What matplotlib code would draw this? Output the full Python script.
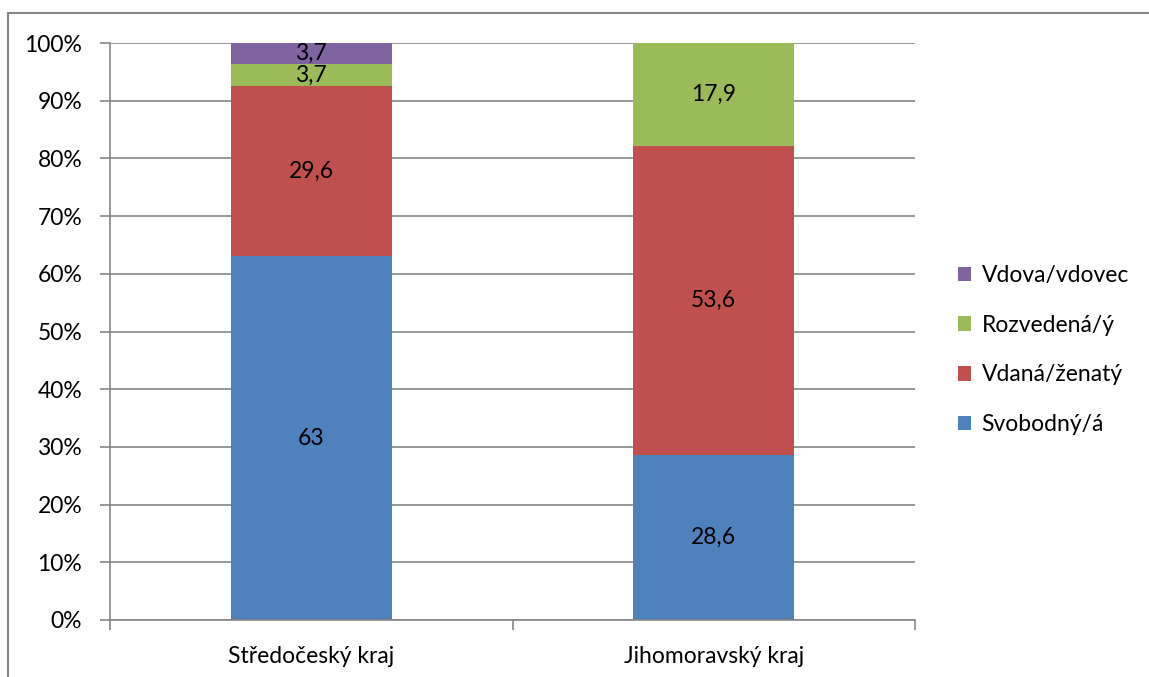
import numpy as np
import matplotlib
import matplotlib.pyplot as plt
from matplotlib.lines import Line2D
matplotlib.use('Agg')

regions = ['Středočeský kraj', 'Jihomoravský kraj']
series = ['Svobodný/á', 'Vdaná/ženatý', 'Rozvedená/ý', 'Vdova/vdovec']
values = {
    'Svobodný/á': [63, 28.6],
    'Vdaná/ženatý': [29.6, 53.6],
    'Rozvedená/ý': [3.7, 17.9],
    'Vdova/vdovec': [3.7, 0],
}
colors = ['#4f81bd', '#c0504d', '#9bbb59', '#8064a2']

plt.rcParams['font.family'] = ['Lato', 'DejaVu Sans']
fs = 16.5

fig = plt.figure(figsize=(11.49, 6.77), dpi=100)
ax = fig.add_axes([110 / 1149, 1 - 620 / 677, 805 / 1149, 577 / 677])

x = np.arange(len(regions))
totals = np.sum([values[s] for s in series], axis=0)
bottom = np.zeros(len(regions))
for s, c in zip(series, colors):
    pct = np.array(values[s]) / totals * 100
    ax.bar(x, pct, 0.4, bottom=bottom, color=c, label=s, zorder=2)
    for xi, v, p, b in zip(x, values[s], pct, bottom):
        if v > 0:
            ax.text(xi, b + p / 2, f'{v:g}'.replace('.', ','), ha='center', va='center',
                    fontsize=fs, color='black', zorder=3)
    bottom += pct

ax.set_xlim(-0.5, 1.5)
ax.set_ylim(0, 100)
ax.set_yticks(np.arange(0, 101, 10))
ax.set_yticklabels([f'{t}%' for t in range(0, 101, 10)], fontsize=fs)
ax.yaxis.grid(True, color='#868686', linewidth=1.2, zorder=0)
ax.set_xticks(x)
ax.set_xticklabels(regions, fontsize=fs)
ax.set_xticks([-0.5, 0.5, 1.5], minor=True)
ax.tick_params(axis='x', which='major', length=0, pad=19)
ax.tick_params(axis='x', which='minor', length=7, color='#868686', width=1.2)
ax.tick_params(axis='y', length=7, color='#868686', width=1.2, pad=13)
for side in ['top', 'right']:
    ax.spines[side].set_visible(False)
for side in ['left', 'bottom']:
    ax.spines[side].set_color('#868686')
    ax.spines[side].set_linewidth(1.2)

handles, labels = ax.get_legend_handles_labels()
leg = fig.legend(handles[::-1], labels[::-1], loc='center left',
                 bbox_to_anchor=(937 / 1149, 1 - 350 / 677), frameon=False,
                 fontsize=fs, handlelength=0.6, handleheight=0.6,
                 handletextpad=0.45, labelspacing=1.25)

# outer chart frame
fig.add_artist(Line2D([8 / 1149, 1], [1 - 13 / 677] * 2, color='#868686', lw=1.5))
fig.add_artist(Line2D([8 / 1149] * 2, [0, 1 - 13 / 677], color='#868686', lw=1.5))

fig.savefig('out.png', dpi=100)
